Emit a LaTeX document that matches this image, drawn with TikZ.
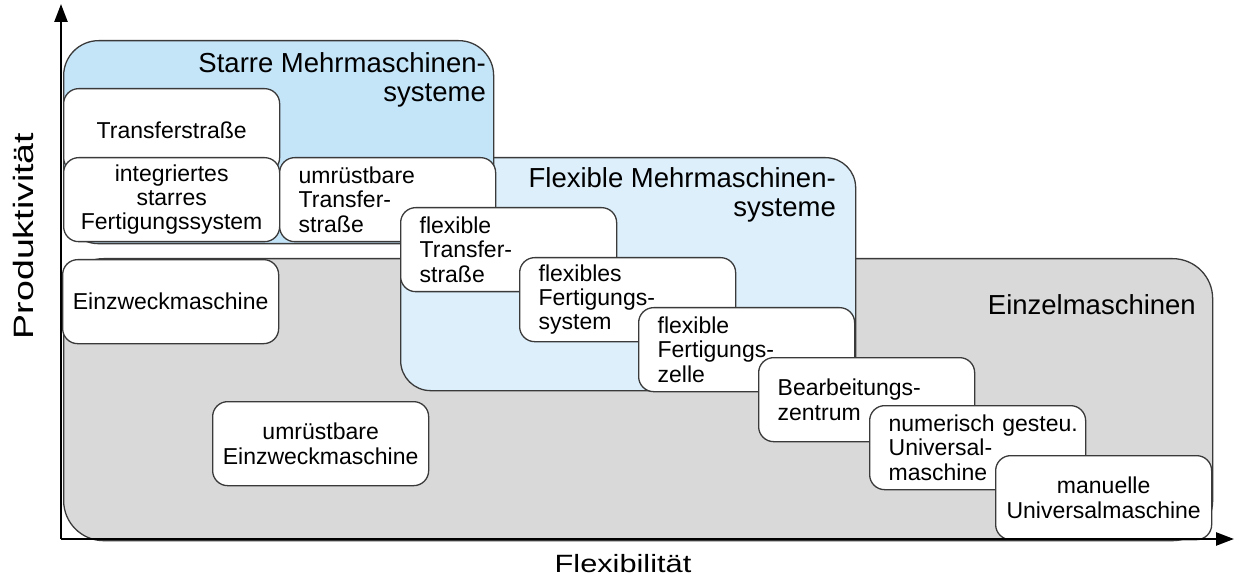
\documentclass[tikz,border=0pt]{standalone}
\usepackage{fontspec}
\usepackage{graphicx}
\setmainfont{Liberation Sans}
\usetikzlibrary{arrows.meta}
\definecolor{rigidblue}{HTML}{C4E4F8}
\definecolor{flexblue}{HTML}{DCEFFB}
\definecolor{singlegray}{HTML}{D9D9D9}
\definecolor{edgegray}{HTML}{3A3A3A}
\newcommand{\ind}{\hspace*{14pt}}

\begin{document}
\begin{tikzpicture}[x=1pt, y=-1pt,
  region/.style={draw=edgegray, line width=1.3pt, inner sep=0pt, anchor=north west},
  machine/.style={draw=edgegray, line width=1.3pt, fill=white, rounded corners=15pt,
    minimum width=216pt, minimum height=84pt, text width=206pt,
    inner xsep=5pt, inner ysep=0pt, anchor=north west,
    font=\fontsize{23}{24.3}\selectfont},
  centred/.style={machine, align=center},
  indented/.style={machine, align=left},
  title/.style={font=\fontsize{27.5}{29}\selectfont, inner sep=0pt, align=right},
  axis/.style={line width=2.4pt, -{Triangle[length=18pt,width=13pt]}}]

\useasboundingbox (0,0) rectangle (1234,577);

% machine classes
\node (single) [region, fill=singlegray, rounded corners=40pt,
  minimum width=1149pt, minimum height=282pt] at (63,258) {};
\node (flexible) [region, fill=flexblue, rounded corners=30pt,
  minimum width=455pt, minimum height=233pt] at (400,157) {};
\node (rigid) [region, fill=rigidblue, rounded corners=35pt,
  minimum width=430pt, minimum height=203pt] at (63,40) {};

\node[title, anchor=east] (rigidtitle) at (486,80) {Starre Mehrmaschinen-\\systeme};
\node[title, anchor=east] (flextitle) at (836,195) {Flexible Mehrmaschinen-\\systeme};
\node[title, anchor=base east] (singletitle) at (1196,314) {Einzelmaschinen};

% individual systems
\node[centred] (transfer) at (63,88) {Transferstraße};
\node[centred] (integrated) at (63,157) {integriertes\\starres\\Fertigungssystem};
\node[indented] (convtransfer) at (279,157) {\ind umrüstbare\\\ind Transfer-\\\ind straße};
\node[indented] (flextransfer) at (400,207) {\ind flexible\\\ind Transfer-\\\ind straße};
\node[indented] (fms) at (519,257) {\ind flexibles\\\ind Fertigungs-\\\ind system};
\node[indented] (fmc) at (638,307) {\ind flexible\\\ind Fertigungs-\\\ind zelle};
\node[indented] (centre) at (758,357) {\ind Bearbeitungs-\\\ind zentrum};
\node[indented] (nc) at (869,405) {\ind numerisch~gesteu.\\\ind Universal-\\\ind maschine};
\node[centred] (manual) at (995,455) {manuelle\\Universalmaschine};
\node[centred] (special) at (62,259) {Einzweckmaschine};
\node[centred] (convspecial) at (212,401) {umrüstbare\\Einzweckmaschine};

% axes
\coordinate (origin) at (61,539);
\coordinate (ytip) at (61,4);
\coordinate (xtip) at (1234,539);
\draw[axis] (origin) -- (ytip);
\draw[axis] (origin) -- (xtip);

\node (ylabel) [rotate=90, inner sep=0pt] at (23,236)
  {\fontsize{28}{28}\selectfont\scalebox{1.34}[1]{Produktivität}};
\node (xlabel) [inner sep=0pt] at (623,564)
  {\fontsize{25}{25}\selectfont\scalebox{1.23}[1]{Flexibilität}};
\end{tikzpicture}
\end{document}
